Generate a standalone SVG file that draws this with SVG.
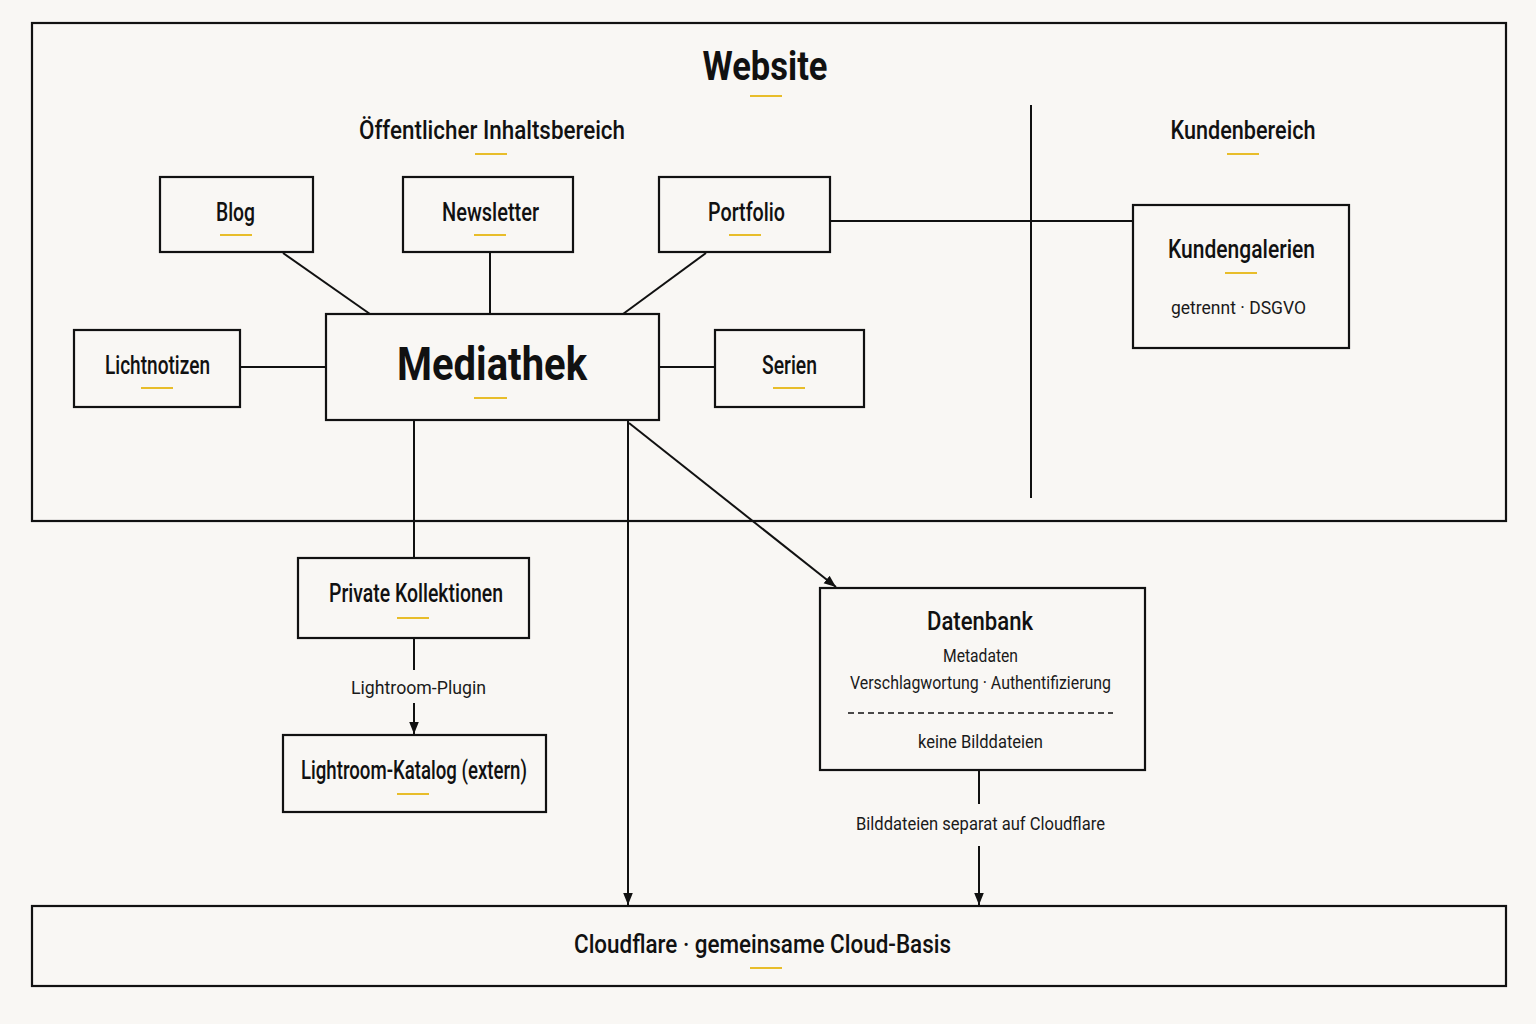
<svg xmlns="http://www.w3.org/2000/svg" width="1536" height="1024" viewBox="0 0 1536 1024">
<style>
.bg{fill:#f9f7f4}
.box{fill:#f9f7f4;stroke:#111;stroke-width:2.2}
.ln{stroke:#111;stroke-width:2;fill:none}
.ul{stroke:#e8bd2a;stroke-width:2}
text{font-family:Roboto,"Liberation Sans",sans-serif;fill:#111;text-anchor:middle}
.t{font-size:25px;font-weight:500}
.h{font-size:26px;font-weight:500}
.s{font-size:18px;fill:#1a1a1a}
</style>
<defs>
<marker id="a" viewBox="0 0 10 10" refX="10" refY="5" markerWidth="12" markerHeight="12" markerUnits="userSpaceOnUse" orient="auto">
<path d="M0,1 L10,5 L0,9 z" fill="#111"/>
</marker>
</defs>
<rect class="bg" x="0" y="0" width="1536" height="1024"/>

<g id="website">
<rect class="box" x="32" y="23" width="1474" height="498"/>
<text x="765" y="80" style="font-size:40px;font-weight:bold" textLength="125" lengthAdjust="spacingAndGlyphs">Website</text>
<line class="ul" x1="750" y1="96" x2="782" y2="96"/>
<text class="h" x="492" y="139" textLength="266" lengthAdjust="spacingAndGlyphs">Öffentlicher  Inhaltsbereich</text>
<line class="ul" x1="475" y1="154" x2="507" y2="154"/>
<text class="h" x="1243" y="139" textLength="145" lengthAdjust="spacingAndGlyphs">Kundenbereich</text>
<line class="ul" x1="1227" y1="154" x2="1259" y2="154"/>
<line class="ln" x1="1031" y1="105" x2="1031" y2="498"/>
</g>

<g id="connectors">
<line class="ln" x1="283" y1="253" x2="370" y2="314"/>
<line class="ln" x1="490" y1="253" x2="490" y2="314"/>
<line class="ln" x1="706" y1="253" x2="623" y2="314"/>
<line class="ln" x1="240" y1="367" x2="326" y2="367"/>
<line class="ln" x1="659" y1="367" x2="715" y2="367"/>
<line class="ln" x1="830" y1="221" x2="1133" y2="221"/>
<line class="ln" x1="414" y1="421" x2="414" y2="558"/>
<line class="ln" x1="628" y1="421" x2="628" y2="905" marker-end="url(#a)"/>
<line class="ln" x1="629" y1="423" x2="836" y2="587" marker-end="url(#a)"/>
<line class="ln" x1="414" y1="638" x2="414" y2="670"/>
<text class="s" x="418.5" y="694" textLength="135" lengthAdjust="spacingAndGlyphs">Lightroom-Plugin</text>
<line class="ln" x1="414" y1="703" x2="414" y2="734" marker-end="url(#a)"/>
<line class="ln" x1="979" y1="770" x2="979" y2="804"/>
<text class="s" x="980.5" y="830" textLength="249" lengthAdjust="spacingAndGlyphs">Bilddateien separat auf Cloudflare</text>
<line class="ln" x1="979" y1="846" x2="979" y2="905" marker-end="url(#a)"/>
</g>

<g id="blog">
<rect class="box" x="160" y="177" width="153" height="75"/>
<text class="t" x="235.5" y="221" textLength="39" lengthAdjust="spacingAndGlyphs">Blog</text>
<line class="ul" x1="220" y1="235" x2="252" y2="235"/>
</g>
<g id="newsletter">
<rect class="box" x="403" y="177" width="170" height="75"/>
<text class="t" x="490.5" y="221" textLength="97" lengthAdjust="spacingAndGlyphs">Newsletter</text>
<line class="ul" x1="474" y1="235" x2="506" y2="235"/>
</g>
<g id="portfolio">
<rect class="box" x="659" y="177" width="171" height="75"/>
<text class="t" x="746.5" y="221" textLength="77" lengthAdjust="spacingAndGlyphs">Portfolio</text>
<line class="ul" x1="729" y1="235" x2="761" y2="235"/>
</g>
<g id="lichtnotizen">
<rect class="box" x="74" y="330" width="166" height="77"/>
<text class="t" x="157.5" y="374" textLength="105" lengthAdjust="spacingAndGlyphs">Lichtnotizen</text>
<line class="ul" x1="141" y1="388" x2="173" y2="388"/>
</g>
<g id="mediathek">
<rect class="box" x="326" y="314" width="333" height="106"/>
<text x="492" y="380" style="font-size:47px;font-weight:bold" textLength="190" lengthAdjust="spacingAndGlyphs">Mediathek</text>
<line class="ul" x1="474" y1="398" x2="507" y2="398"/>
</g>
<g id="serien">
<rect class="box" x="715" y="330" width="149" height="77"/>
<text class="t" x="789.5" y="374" textLength="55" lengthAdjust="spacingAndGlyphs">Serien</text>
<line class="ul" x1="773" y1="388" x2="805" y2="388"/>
</g>
<g id="kundengalerien">
<rect class="box" x="1133" y="205" width="216" height="143"/>
<text class="t" x="1241.5" y="258" textLength="147" lengthAdjust="spacingAndGlyphs">Kundengalerien</text>
<line class="ul" x1="1225" y1="273" x2="1257" y2="273"/>
<text class="s" x="1238.5" y="314" textLength="135" lengthAdjust="spacingAndGlyphs">getrennt  ·  DSGVO</text>
</g>
<g id="private">
<rect class="box" x="298" y="558" width="231" height="80"/>
<text class="t" x="416" y="602" textLength="174" lengthAdjust="spacingAndGlyphs">Private Kollektionen</text>
<line class="ul" x1="397" y1="618" x2="429" y2="618"/>
</g>
<g id="lightroom">
<rect class="box" x="283" y="735" width="263" height="77"/>
<text class="t" x="414" y="779" textLength="226" lengthAdjust="spacingAndGlyphs">Lightroom-Katalog (extern)</text>
<line class="ul" x1="397" y1="794" x2="429" y2="794"/>
</g>
<g id="datenbank">
<rect class="box" x="820" y="588" width="325" height="182"/>
<text class="t" x="980" y="630" textLength="106" lengthAdjust="spacingAndGlyphs">Datenbank</text>
<text class="s" x="980.5" y="662" textLength="75" lengthAdjust="spacingAndGlyphs">Metadaten</text>
<text class="s" x="980.5" y="689" textLength="261" lengthAdjust="spacingAndGlyphs">Verschlagwortung  ·  Authentifizierung</text>
<line x1="848" y1="713" x2="1113" y2="713" stroke="#111" stroke-width="1.5" stroke-dasharray="6,4"/>
<text class="s" x="980.5" y="748" textLength="125" lengthAdjust="spacingAndGlyphs">keine Bilddateien</text>
</g>
<g id="cloudflare">
<rect class="box" x="32" y="906" width="1474" height="80"/>
<text class="h" x="762.5" y="953" textLength="377" lengthAdjust="spacingAndGlyphs">Cloudflare  ·  gemeinsame Cloud-Basis</text>
<line class="ul" x1="750" y1="968" x2="782" y2="968"/>
</g>
</svg>
